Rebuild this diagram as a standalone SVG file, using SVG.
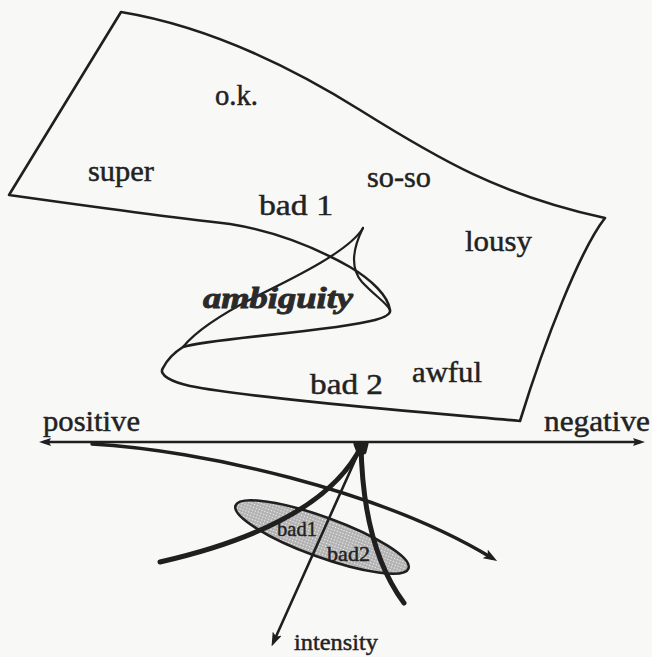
<svg xmlns="http://www.w3.org/2000/svg" width="652" height="657" viewBox="0 0 652 657">
  <defs>
    <style>
      .ln { fill: none; stroke: #1f1f1f; stroke-linecap: round; stroke-linejoin: round; }
      .lbl { font-family: "Liberation Serif", "Times New Roman", serif; fill: #222; stroke: #222; stroke-width: 0.45; }
      .big { font-size: 29px; }
      .small { font-size: 21px; }
      .amb { font-family: "Liberation Serif", "Times New Roman", serif; font-size: 30px; font-weight: bold; font-style: italic; fill: #2a2a2a; stroke: #2a2a2a; stroke-width: 0.9; }
    </style>
    <pattern id="dots" width="3" height="3" patternUnits="userSpaceOnUse">
      <rect width="3" height="3" fill="#b0b0b0"/>
      <circle cx="1.5" cy="1.5" r="0.75" fill="#f2f2f2"/>
    </pattern>
    <marker id="arr" viewBox="0 0 14 10" refX="8" refY="5" markerWidth="14" markerHeight="10" markerUnits="userSpaceOnUse" orient="auto-start-reverse">
      <path d="M0,0 L14,5 L0,10 L3,5 Z" fill="#1f1f1f"/>
    </marker>
    <marker id="arrS" viewBox="0 0 12 8" refX="7" refY="4" markerWidth="12" markerHeight="8" markerUnits="userSpaceOnUse" orient="auto-start-reverse">
      <path d="M0,0 L12,4 L0,8 L2,4 Z" fill="#1f1f1f"/>
    </marker>
  </defs>

  <rect width="652" height="657" fill="#f8f8f6"/>

  <g id="surface">
    <path class="ln" stroke-width="2.6" d="M121,12 C200,25 280,60 360,110 S500,195 605,218 C580,250 545,340 520,421 C420,412 250,398 190,386 C172,382 158,375 163,368 C167,360 175,352 183,347 C210,338 330,332 375,320 C386,317 391,314 390,310 C388,296 372,280 350,267 C320,250 280,232 230,224 C160,216 80,205 9,195 Z"/>
    <path id="fold" class="ln" stroke-width="2.2" d="M363,228 C350,250 300,275 255,297 C220,315 195,332 183,347"/>
    <path id="cusp" class="ln" stroke-width="2.2" d="M363,228 C352,250 350,268 362,282 C375,296 387,303 390,310"/>
  </g>

  <g id="surface-labels">
    <text id="ok" class="lbl big" x="215" y="105" textLength="43" lengthAdjust="spacingAndGlyphs">o.k.</text>
    <text id="super" class="lbl big" x="88" y="181" textLength="66" lengthAdjust="spacingAndGlyphs">super</text>
    <text id="soso" class="lbl big" x="367" y="187" textLength="64" lengthAdjust="spacingAndGlyphs">so-so</text>
    <text id="bad1top" class="lbl big" x="259" y="215" textLength="74" lengthAdjust="spacingAndGlyphs">bad 1</text>
    <text id="lousy" class="lbl big" x="465" y="251" textLength="67" lengthAdjust="spacingAndGlyphs">lousy</text>
    <text id="ambiguity" class="amb" x="203" y="308" textLength="150" lengthAdjust="spacingAndGlyphs">ambiguity</text>
    <text id="awful" class="lbl big" x="412" y="382" textLength="70" lengthAdjust="spacingAndGlyphs">awful</text>
    <text id="bad2top" class="lbl big" x="310" y="394" textLength="73" lengthAdjust="spacingAndGlyphs">bad 2</text>
  </g>

  <g id="axis">
    <path class="ln" stroke-width="2.6" d="M44,442 L640,442" marker-start="url(#arrS)" marker-end="url(#arrS)"/>
    <text id="positive" class="lbl big" x="43" y="431" textLength="97" lengthAdjust="spacingAndGlyphs">positive</text>
    <text id="negative" class="lbl big" x="544" y="431" textLength="106" lengthAdjust="spacingAndGlyphs">negative</text>
  </g>

  <g id="region">
    <ellipse cx="322" cy="537" rx="92" ry="20" transform="rotate(20 322 537)" fill="url(#dots)" stroke="#1f1f1f" stroke-width="2.6"/>
  </g>

  <g id="connectors">
    <path class="ln" stroke-width="3.4" d="M92,444 C200,450 380,490 492,558" marker-end="url(#arr)"/>
    <path class="ln" stroke-width="5" d="M362,445 C345,480 300,530 160,562"/>
    <path class="ln" stroke-width="5" d="M361,445 C362,500 372,560 404,603"/>
    <path class="ln" stroke-width="2.6" d="M361,447 L274,641" marker-end="url(#arr)"/>
    <path class="ln" stroke-width="5" d="M356,444 L366,444 L364,452 L359,452 Z" fill="#1f1f1f"/>
  </g>

  <g id="region-labels">
    <text id="bad1" class="lbl small" x="277" y="536" textLength="40" lengthAdjust="spacingAndGlyphs">bad1</text>
    <text id="bad2" class="lbl small" x="327" y="561" textLength="43" lengthAdjust="spacingAndGlyphs">bad2</text>
    <text id="intensity" class="lbl" font-size="24" x="294" y="650" textLength="84" lengthAdjust="spacingAndGlyphs">intensity</text>
  </g>
</svg>
